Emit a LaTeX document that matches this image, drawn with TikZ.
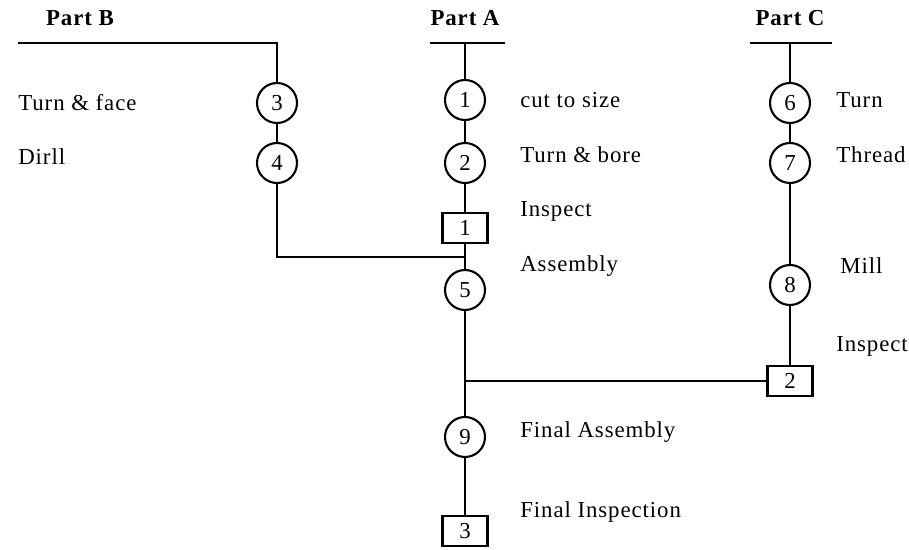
\documentclass[tikz,border=0pt]{standalone}
\usepackage{fontspec}
\setmainfont{Liberation Serif}[LetterSpace=4]
\usetikzlibrary{positioning}

\begin{document}
\begin{tikzpicture}[
  x=0.02cm, y=-0.02cm,
  font=\fontsize{13}{15}\selectfont,
  op/.style={draw, circle, line width=1.2pt, minimum size=0.8cm, inner sep=0pt},
  insp/.style={draw, rectangle, line width=1.2pt, minimum width=0.9cm,
               minimum height=0.6cm, inner sep=0pt},
  lbl/.style={anchor=west, inner sep=0pt},
  part/.style={font=\fontsize{13}{15}\selectfont\bfseries, inner sep=0pt},
  ln/.style={line width=1.2pt},
  bar/.style={line width=1.5pt},
]
\useasboundingbox (0,0) rectangle (909,550);

% ---------- Part B ----------
\node[part] (pb) at (80,18) {Part B};
\coordinate (pbl) at (18,43);
\node[op] (o3) at (277,103) {3};
\node[op] (o4) at (277,163) {4};
\node[lbl] (t3) at (18,103) {Turn \& face};
\node[lbl] (t4) at (18,157) {Dirll};

% ---------- Part A ----------
\node[part] (pa) at (465,18) {Part A};
\coordinate (pal) at (430,43);
\coordinate (par) at (505,43);
\coordinate (pat) at (465,43);
\node[op] (o1) at (465,100) {1};
\node[op] (o2) at (465,163) {2};
\node[insp] (i1) at (465,228) {1};
\coordinate (ja) at (465,257);
\node[op] (o5) at (465,290) {5};
\coordinate (jc) at (465,381);
\node[op] (o9) at (465,437) {9};
\node[insp] (i3) at (465,531) {3};
\node[lbl] (t1) at (520,100) {cut to size};
\node[lbl] (t2) at (520,155) {Turn \& bore};
\node[lbl] (ti1) at (520,211) {Inspect};
\node[lbl] (t5) at (520,266) {Assembly};
\node[lbl] (t9) at (520,432) {Final Assembly};
\node[lbl] (ti3) at (520,512) {Final Inspection};

% ---------- Part C ----------
\node[part] (pc) at (790,18) {Part C};
\coordinate (pcl) at (750,43);
\coordinate (pcr) at (832,43);
\coordinate (pct) at (790,43);
\node[op] (o6) at (790,103) {6};
\node[op] (o7) at (790,163) {7};
\node[op] (o8) at (790,285) {8};
\node[insp] (i2) at (790,381) {2};
\node[lbl] (t6) at (836,100) {Turn};
\node[lbl] (t7) at (836,155) {Thread};
\node[lbl] (t8) at (840,266) {Mill};
\node[lbl] (ti2) at (836,346) {Inspect};

% ---------- connectors ----------
\draw[bar] (pal) -- (par);
\draw[bar] (pcl) -- (pcr);
\draw[ln] (pbl) -| (o3);
\draw[ln] (pat) -- (o1);
\draw[ln] (pct) -- (o6);
\foreach \a/\b in {o3/o4,o1/o2,o2/i1,i1/o5,o5/o9,o9/i3,o6/o7,o7/o8,o8/i2}
  \draw[ln] (\a) -- (\b);
\draw[ln] (o4) |- (ja);
\draw[ln] (i2) -- (jc);

\end{tikzpicture}
\end{document}
